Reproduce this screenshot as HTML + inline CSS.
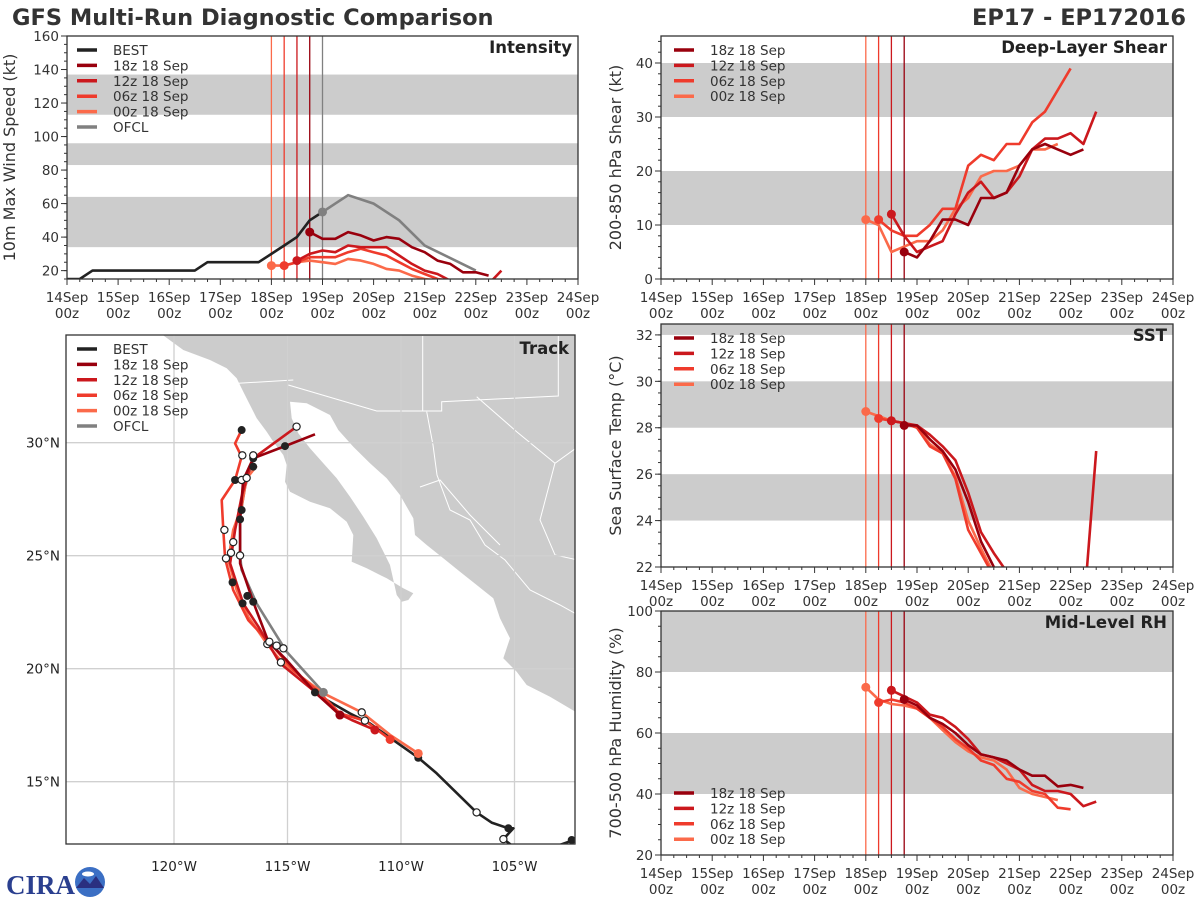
<!DOCTYPE html>
<html><head><meta charset="utf-8">
<style>
html,body{margin:0;padding:0;background:#fff;}
svg{display:block;font-family:"DejaVu Sans","Liberation Sans",sans-serif;}
</style></head>
<body>
<svg id="fig" width="1200" height="900" viewBox="0 0 1200 900" xmlns="http://www.w3.org/2000/svg">
<rect width="1200" height="900" fill="#fff"/>
<text x="12" y="25" font-size="22.5" font-weight="bold" fill="#333">GFS Multi-Run Diagnostic Comparison</text>
<text x="1186" y="25" font-size="22.5" font-weight="bold" fill="#333" text-anchor="end">EP17 - EP172016</text>
<g id="layer"></g>
<g>
<text x="6" y="894" font-size="27" font-weight="bold" fill="#2a3f8f" font-family="Liberation Serif, serif">CIRA</text>
<circle cx="90" cy="882" r="15" fill="#3b6fc4"/>
<path d="M76 888 L84 878 L90 884 L96 876 L104 888 Z" fill="#2a2f80"/>
<ellipse cx="88" cy="874" rx="6" ry="2.5" fill="#fff"/>
</g>
</svg>
<script>
// ---------- data ----------
const runColors = ['#99000d','#cb181d','#ef3b2c','#fb6a4a'];
const runNames = ['18z 18 Sep','12z 18 Sep','06z 18 Sep','00z 18 Sep'];
const runStarts = [19,18,17,16]; // 6-hourly steps from 14Sep 00z
const dayLabels = ['14Sep','15Sep','16Sep','17Sep','18Sep','19Sep','20Sep','21Sep','22Sep','23Sep','24Sep'];

const bestIntensity = [15,15,20,20,20,20,20,20,20,20,20,25,25,25,25,25,30,35,40,50,55];
const ofclIntensity = [55,60,65,60,50,35,20];
const ofclHours = [0,6,12,24,36,48,72];
const int18z = [43,39,39,43,41,38,40,39,34,31,26,24,19,19,17];
const int12z = [26,30,32,31,35,34,34,34,29,24,20,18,14,12,10,12,20];
const int06z = [23,25,28,28,28,31,33,31,29,25,21,18,15,14,14];
const int00z = [23,23,25,26,25,24,27,26,24,21,20,17,15,14,14];

const shr18z = [5,4,7,11,11,10,15,15,16,21,24,25,24,23,24];
const shr12z = [12,8,5,6,7,12,16,18,15,16,19,24,26,26,27,25,31];
const shr06z = [11,9,8,8,10,13,13,21,23,22,25,25,29,31,35,39];
const shr00z = [11,10,5,6,7,7,9,13,15,19,20,20,21,24,24,25];

const sst18z = [28.1,28.1,27.5,27.0,26.2,24.8,23.1,22.0,21.0];
const sst12z = [28.3,28.2,28.1,27.7,27.2,26.6,25.2,23.5,22.6,21.8,20.5,20,20,20,20,20,27.0];
const sst06z = [28.4,28.3,28.2,28.0,27.2,26.9,25.8,23.6,22.6,21.6];
const sst00z = [28.7,28.5,28.3,28.2,28.0,27.3,26.9,25.9,24.0,22.8,21.7];

const rh18z = [71,69,65,63,60,56,53,52,51,48,46,46,42.5,43,42];
const rh12z = [74,72,70,66,65,62,58,53,52,50,48,43,41,41,40,36,37.5];
const rh06z = [70,71,70,68,65,62,58,55,51,49.5,45,44,41,40,35.5,35];
const rh00z = [75,71,69.5,69,68,65,61,57,54,52,51,48,42,40,39,38];

// track data: [lon W, lat N]
const trackBest = [[102.48,12.39],[104.46,11.68],[105.49,12.46],[105.05,12.94],[105.27,12.94],[106.01,13.19],[106.67,13.64],[108.43,15.37],[109.24,16.06],[110.34,16.84],[111.37,17.58],[112.25,18.02],[113.27,18.61],[113.79,18.95]];
const trackOfcl = [[113.42,18.95],[115.04,20.75],[116.36,22.89],[117.02,24.37],[117.09,25.01],[117.09,26.73],[116.87,28.05],[116.65,28.79]];
const track00z = [[109.24,16.25],[110.48,17.07],[111.73,18.07],[113.42,18.91],[114.30,19.57],[115.26,20.31],[115.92,21.12],[116.73,22.30],[117.24,23.48],[117.61,24.81],[117.39,26.14],[117.02,27.17],[116.80,28.42],[116.36,28.97]];
const track06z = [[110.48,16.87],[111.59,17.70],[112.69,18.02],[113.57,18.91],[114.74,19.94],[115.62,20.97],[116.73,22.15],[117.39,23.48],[117.75,24.88],[117.83,26.14],[117.90,27.46],[117.31,28.35],[117.02,29.38],[117.31,29.97],[117.02,30.56]];
const track12z = [[111.15,17.29],[112.17,17.73],[112.76,18.02],[113.71,18.91],[115.33,20.24],[116.28,21.86],[116.95,22.89],[117.53,24.66],[117.31,26.14],[117.02,27.61],[116.73,28.64],[116.51,29.31],[114.60,30.71]];
const track18z = [[112.69,17.95],[113.79,18.95],[115.04,20.38],[115.84,21.19],[116.51,22.96],[117.09,24.66],[117.09,26.58],[116.95,28.35],[116.51,29.31],[115.11,29.85],[113.79,30.37]];
const filledDots = [[117.31,28.35],[116.51,29.31],[116.51,28.94],[117.02,27.02],[117.09,26.61],[117.42,23.82],[116.98,22.89],[116.77,23.22],[116.51,22.96],[115.11,29.85],[117.02,30.56],[113.79,18.95],[109.24,16.06],[105.27,12.94],[102.48,12.42]];
const openDots = [[116.99,29.44],[116.51,29.44],[117.78,26.14],[117.49,25.13],[117.71,24.88],[117.09,25.01],[117.39,25.60],[117.02,28.35],[116.80,28.44],[115.89,21.09],[115.80,21.19],[115.48,21.02],[115.18,20.90],[115.29,20.28],[111.73,18.07],[111.59,17.70],[114.60,30.71],[106.67,13.64],[105.49,12.46]];
const lonTicks = [120,115,110,105];
const latTicks = [15,20,25,30];

// ---------- drawing ----------
const NS='http://www.w3.org/2000/svg';
const layer=document.getElementById('layer');
function mk(tag,attrs,parent){const e=document.createElementNS(NS,tag);for(const k in attrs)e.setAttribute(k,attrs[k]);(parent||layer).appendChild(e);return e;}
function txt(s,attrs,parent){const e=mk('text',attrs,parent);e.textContent=s;return e;}

function tsPanel(cfg){
  const g=mk('g',{});
  
  
  const L=cfg.l,R=cfg.r,T=cfg.t,B=cfg.b;
  const xs=s=>L+(R-L)*s/40;
  const ys=v=>B-(B-T)*(v-cfg.ymin)/(cfg.ymax-cfg.ymin);
  const cid='clip-'+cfg.name;
  const cp=mk('clipPath',{id:cid},g);mk('rect',{x:L,y:T,width:R-L,height:B-T},cp);
  cfg.bands.forEach(b=>{const r=mk('rect',{x:L,y:ys(Math.min(b[1],cfg.ymax)),width:R-L,height:ys(b[0])-ys(Math.min(b[1],cfg.ymax)),fill:'#cccccc'},g);
    });
  const vl=[[16,runColors[3]],[17,runColors[2]],[18,runColors[1]],[19,runColors[0]]];
  if(cfg.ofclLine) vl.push([20,'#808080']);
  vl.forEach(v=>{const l=mk('line',{x1:xs(v[0]),x2:xs(v[0]),y1:T,y2:B,stroke:v[1],'stroke-width':1.3},g);
    });
  const dg=mk('g',{'clip-path':'url(#'+cid+')'},g);
  function series(vals,start,color,name,w){
    let d='';vals.forEach((v,i)=>{if(v==null)return;d+=(d?'L':'M')+xs(start+i).toFixed(1)+' '+ys(v).toFixed(1);});
    const p=mk('path',{d:d,fill:'none',stroke:color,'stroke-width':w||2.6,'stroke-linejoin':'round'},dg);
    
    return p;
  }
  if(cfg.best){series(cfg.best,0,'#222','best-line');
    const hx=s=>L+(R-L)*s/240;
    let d='';cfg.ofcl.forEach((v,i)=>{d+=(d?'L':'M')+hx(120+cfg.ofclH[i]).toFixed(1)+' '+ys(v).toFixed(1);});
    const p=mk('path',{d:d,fill:'none',stroke:'#808080','stroke-width':2.6},dg);
    
  }
  for(let k=3;k>=0;k--){series(cfg.runs[k],runStarts[k],runColors[k],'run-'+runNames[k].slice(0,3)+'-line');}
  for(let k=3;k>=0;k--){const c=mk('circle',{cx:xs(runStarts[k]),cy:ys(cfg.runs[k][0]),r:4.5,fill:runColors[k]},dg);
    }
  if(cfg.best){const c=mk('circle',{cx:xs(20),cy:ys(cfg.ofcl[0]),r:4.5,fill:'#808080'},dg);}
  mk('rect',{x:L,y:T,width:R-L,height:B-T,fill:'none',stroke:'#333','stroke-width':1.3},g);
  for(let s=0;s<=40;s++){const x=xs(s);const major=s%4===0;mk('line',{x1:x,x2:x,y1:B,y2:B+(major?6:3),stroke:'#333','stroke-width':1},g);}
  dayLabels.forEach((lab,i)=>{const x=xs(i*4);
    const t1=txt(lab,{x:x,y:B+23,'font-size':13.5,'text-anchor':'middle',fill:'#333'},g);
    
    txt('00z',{x:x,y:B+39,'font-size':13.5,'text-anchor':'middle',fill:'#333'},g);});
  for(let v=cfg.ymin;v<=cfg.ymax+1e-6;v+=cfg.minor){const y=ys(v);mk('line',{x1:L-3,x2:L,y1:y,y2:y,stroke:'#333','stroke-width':1},g);}
  cfg.ticks.forEach(v=>{const y=ys(v);mk('line',{x1:L-6,x2:L,y1:y,y2:y,stroke:'#333','stroke-width':1},g);
    const t=txt(String(v),{x:L-8,y:y+5,'font-size':13.5,'text-anchor':'end',fill:'#333'},g);
    });
  const yl=txt(cfg.ylabel,{x:0,y:0,'font-size':16,'text-anchor':'middle',fill:'#333',transform:'translate('+(cfg.ylx)+','+((T+B)/2)+') rotate(-90)'},g);
  
  const tt=txt(cfg.title,{x:R-6,y:T+17,'font-size':16.5,'font-weight':'bold','text-anchor':'end',fill:'#222'},g);
  
  legend(g,cfg.legX,cfg.legY,cfg.legItems);
}
function legend(g,x,y,items){
  const lg=mk('g',{},g);
  
  items.forEach((it,i)=>{const yy=y+i*15.4;
    mk('line',{x1:x,x2:x+20,y1:yy,y2:yy,stroke:it[1],'stroke-width':3.5},lg);
    const t=txt(it[0],{x:x+36,y:yy+5,'font-size':13.5,fill:'#333'},lg);
    });
}
const runLeg=runNames.map((n,i)=>[n,runColors[i]]);
tsPanel({name:'intensity-panel',l:67,r:578,t:36,b:279,ymin:15,ymax:160,ticks:[20,40,60,80,100,120,140,160],minor:5,
  bands:[[34,64],[83,96],[113,137]],runs:[int18z,int12z,int06z,int00z],best:bestIntensity,ofcl:ofclIntensity,ofclH:ofclHours,ofclLine:true,
  ylabel:'10m Max Wind Speed (kt)',ylx:15,title:'Intensity',legX:77,legY:50,legItems:[['BEST','#222']].concat(runLeg,[['OFCL','#808080']])});
tsPanel({name:'shear-panel',l:661,r:1173,t:36,b:279,ymin:0,ymax:45,ticks:[0,10,20,30,40],minor:2,
  bands:[[10,20],[30,40]],runs:[shr18z,shr12z,shr06z,shr00z],
  ylabel:'200-850 hPa Shear (kt)',ylx:621,title:'Deep-Layer Shear',legX:674,legY:50,legItems:runLeg});
tsPanel({name:'sst-panel',l:661,r:1173,t:324,b:567,ymin:22,ymax:32.47,ticks:[22,24,26,28,30,32],minor:0.5,
  bands:[[24,26],[28,30],[32,33]],runs:[sst18z,sst12z,sst06z,sst00z],
  ylabel:'Sea Surface Temp (°C)',ylx:621,title:'SST',legX:674,legY:338,legItems:runLeg});
tsPanel({name:'rh-panel',l:661,r:1173,t:611,b:855,ymin:20,ymax:100,ticks:[20,40,60,80,100],minor:5,
  bands:[[40,60],[80,100]],runs:[rh18z,rh12z,rh06z,rh00z],
  ylabel:'700-500 hPa Humidity (%)',ylx:621,title:'Mid-Level RH',legX:674,legY:793,legItems:runLeg});

// ---------- track map ----------
(function(){
  const L=66,R=575,T=335,B=844;
  const g=mk('g',{});
  
  
  const xl=lon=>174+(120-lon)*22.7;
  const yl=lat=>442.7+(30-lat)*22.6;
  const cp=mk('clipPath',{id:'clip-track'},g);mk('rect',{x:L,y:T,width:R-L,height:B-T},cp);
  const cg=mk('g',{'clip-path':'url(#clip-track)'},g);
  const land=mk('path',{d:'M160 333 L183.3 350 L210 360 L226.7 368.3 L236.7 378.3 L243.3 391.7 L250 405 L256.7 418.3 L266.7 431.7 L273.3 441.7 L283.3 455 L286.7 465 L285 481.7 L290 491.7 L310 501.7 L330 508.3 L346.7 521.7 L353.3 535 L351.7 561.7 L366.7 568.3 L386.7 578.3 L403.3 588.3 L413.3 593.3 L408.3 600 L401.7 601.7 L396.7 595 L390 565 L376.7 538.3 L363.3 516.7 L350 496.7 L336.7 478.3 L323.3 463.3 L310 448.3 L298.3 433.3 L291.7 418.3 L290 401.7 L306.7 403.3 L330 415 L338.3 430 L353.3 446.7 L370 463.3 L386.7 478.3 L400 495 L413.3 518.3 L415 535 L426.7 545 L443.3 558.3 L460 571.7 L476.7 585 L493.3 598.3 L500 618.3 L510 638.3 L503.3 658.3 L516.7 671.7 L526.7 685 L550 696.7 L578 713.3 L578 333 Z',fill:'#cccccc',stroke:'none'},cg);
  
  const borders=mk('path',{d:'M238.3 383.3 L293.3 380 M288.3 385 L376.7 411 L441.7 411 L441.7 401.7 L558.3 396 L558.3 336 M422.7 336 L422.7 411 M476.7 396.7 L516.7 431.7 L555 463.3 L578 446.7 M426.7 411.7 L433 445 L437 475 L450 510 L470 520 L485 545 L505 560 L530 590 L560 605 L578 615 M555 463 L540 520 L555 555 L578 560 M420 487 L440 480 L470 515 L500 545',fill:'none',stroke:'#fff','stroke-width':1},cg);
  
  lonTicks.forEach(lo=>{const x=xl(lo);mk('line',{x1:x,x2:x,y1:T,y2:B,stroke:'#d0d0d0','stroke-width':1.3},cg);
    const t=txt(lo+'°W',{x:x,y:871,'font-size':13.5,'text-anchor':'middle',fill:'#222'},g);
    });
  latTicks.forEach(la=>{const y=yl(la);mk('line',{x1:L,x2:R,y1:y,y2:y,stroke:'#d0d0d0','stroke-width':1.3},cg);
    const t=txt(la+'°N',{x:L-6,y:y+5,'font-size':13.5,'text-anchor':'end',fill:'#222'},g);
    });
  function trk(pts,color,name){
    const d=pts.map((p,i)=>(i?'L':'M')+xl(p[0]).toFixed(1)+' '+yl(p[1]).toFixed(1)).join('');
    const p=mk('path',{d:d,fill:'none',stroke:color,'stroke-width':2.6,'stroke-linejoin':'round'},cg);
    
  }
  trk(trackBest,'#222','best-track');
  trk(trackOfcl,'#808080','ofcl-track');
  trk(track00z,runColors[3],'track-00z');
  trk(track06z,runColors[2],'track-06z');
  trk(track12z,runColors[1],'track-12z');
  trk(track18z,runColors[0],'track-18z');
  filledDots.forEach(p=>{const c=mk('circle',{cx:xl(p[0]),cy:yl(p[1]),r:4,fill:'#222'},cg);
    });
  openDots.forEach(p=>{const c=mk('circle',{cx:xl(p[0]),cy:yl(p[1]),r:3.6,fill:'#fff',stroke:'#222','stroke-width':1.2},cg);
    });
  [[track00z,3],[track06z,2],[track12z,1],[track18z,0]].forEach(a=>{const p=a[0][0];
    const c=mk('circle',{cx:xl(p[0]),cy:yl(p[1]),r:4.5,fill:runColors[a[1]]},cg);
    });
  const oc=mk('circle',{cx:xl(trackOfcl[0][0]),cy:yl(trackOfcl[0][1]),r:4.5,fill:'#808080'},cg);
  
  mk('rect',{x:L,y:T,width:R-L,height:B-T,fill:'none',stroke:'#333','stroke-width':1.3},g);
  const tt=txt('Track',{x:R-6,y:T+19,'font-size':16.5,'font-weight':'bold','text-anchor':'end',fill:'#222'},g);
  
  legend(g,77,349,[['BEST','#222']].concat(runLeg,[['OFCL','#808080']]));
})();
</script>
</body></html>
